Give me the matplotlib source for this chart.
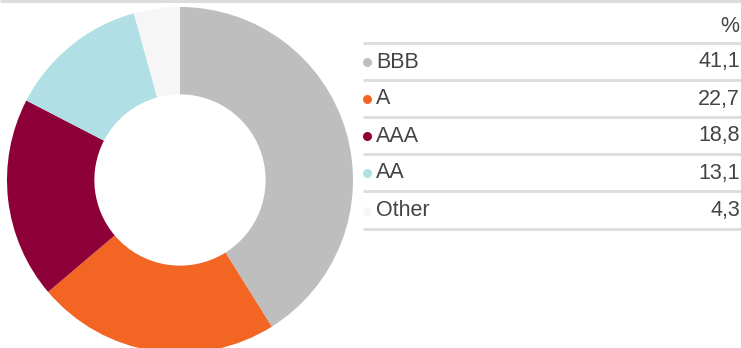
import matplotlib.pyplot as plt

plt.rcParams['font.family'] = ['Liberation Sans', 'DejaVu Sans']

labels = ["BBB", "A", "AAA", "AA", "Other"]
shares = [41.1, 22.7, 18.8, 13.1, 4.3]
value_text = ["41,1", "22,7", "18,8", "13,1", "4,3"]
colors = ["#bebebe", "#f26522", "#8e0038", "#b0dfe5", "#f6f6f6"]

W, H = 741, 348
fig = plt.figure(figsize=(W / 100, H / 100), dpi=100)

# overlay axes in pixel units for the table and rules
ax_tbl = fig.add_axes([0, 0, 1, 1])
ax_tbl.set_xlim(0, W)
ax_tbl.set_ylim(H, 0)
ax_tbl.axis("off")

# donut
cx, cy, r = 180, 180, 173
ax = fig.add_axes([(cx - r) / W, (H - cy - r) / H, 2 * r / W, 2 * r / H])
ax.pie(shares, colors=colors, startangle=90, counterclock=False,
       wedgeprops=dict(width=0.505, linewidth=0))
ax.set_aspect("equal")
ax.set_xlim(-1, 1)
ax.set_ylim(-1, 1)
ax.axis("off")

rule = "#dcdcdc"
text_col = "#444444"
fs = 15.5
ax_tbl.plot([0, W], [1, 1], color=rule, lw=2.2, solid_capstyle="butt")
ax_tbl.text(739, 27, "%", ha="right", va="center", fontsize=fs, color=text_col)

rule_y = [43, 80, 117, 154, 191, 229]
for y in rule_y:
    ax_tbl.plot([363, W], [y, y], color=rule, lw=2, solid_capstyle="butt")

for i, (lab, val, c) in enumerate(zip(labels, value_text, colors)):
    y = (rule_y[i] + rule_y[i + 1]) / 2 + 0.5
    ax_tbl.scatter([367], [y], s=42, color=c, linewidths=0, zorder=3)
    ax_tbl.text(376, y, lab, ha="left", va="center", fontsize=fs, color=text_col)
    ax_tbl.text(740, y, val, ha="right", va="center", fontsize=fs, color=text_col)

fig.savefig("out.png", dpi=100)
